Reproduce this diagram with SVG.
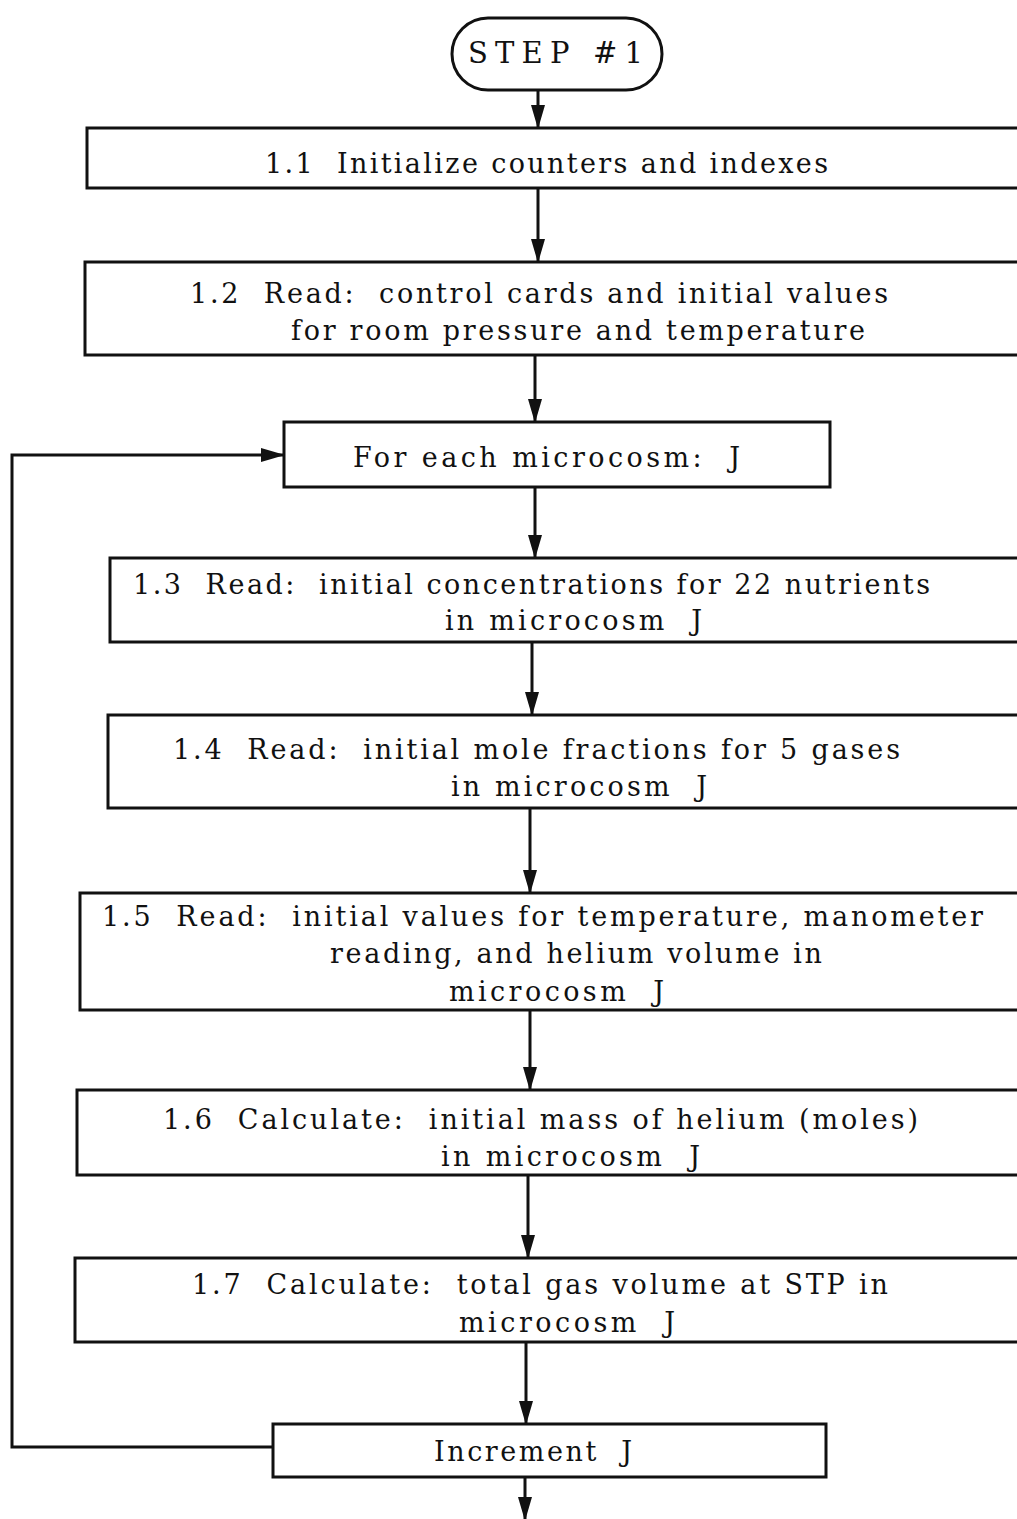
<svg xmlns="http://www.w3.org/2000/svg" width="1017" height="1519" viewBox="0 0 1017 1519">
<style>
.box{fill:#fff;stroke:#111;stroke-width:3}
.ln{fill:none;stroke:#111;stroke-width:3}
text{font-family:"DejaVu Serif","Liberation Serif",serif;font-size:27px;fill:#111;white-space:pre}
.big{font-size:29px}
</style>
<defs>
<marker id="ah" markerWidth="24" markerHeight="14" refX="22" refY="7" orient="auto" markerUnits="userSpaceOnUse" viewBox="0 0 24 14">
<path d="M0,0 L24,7 L0,14 Z" fill="#111"/>
</marker>
</defs>
<rect width="1017" height="1519" fill="#fff"/>
<g id="connectors">
<line class="ln" x1="538" y1="90" x2="538" y2="127" marker-end="url(#ah)"/>
<line class="ln" x1="538" y1="188" x2="538" y2="261" marker-end="url(#ah)"/>
<line class="ln" x1="535" y1="355" x2="535" y2="421" marker-end="url(#ah)"/>
<line class="ln" x1="535" y1="487" x2="535" y2="557" marker-end="url(#ah)"/>
<line class="ln" x1="532" y1="642" x2="532" y2="714" marker-end="url(#ah)"/>
<line class="ln" x1="530" y1="808" x2="530" y2="892" marker-end="url(#ah)"/>
<line class="ln" x1="530" y1="1010" x2="530" y2="1089" marker-end="url(#ah)"/>
<line class="ln" x1="528" y1="1175" x2="528" y2="1257" marker-end="url(#ah)"/>
<line class="ln" x1="526" y1="1342" x2="526" y2="1423" marker-end="url(#ah)"/>
<line class="ln" x1="525" y1="1477" x2="525" y2="1519" marker-end="url(#ah)"/>
<polyline class="ln" points="273,1447 12,1447 12,455 283,455" marker-end="url(#ah)"/>
</g>
<g id="start">
<rect class="box" x="452" y="18" width="210" height="72" rx="36" ry="36"/>
<text class="big" x="468" y="63" textLength="175" lengthAdjust="spacing">STEP #1</text>
</g>
<g id="n1_1">
<rect class="box" x="87" y="128" width="950" height="60"/>
<text x="265" y="173" textLength="563" lengthAdjust="spacing">1.1  Initialize counters and indexes</text>
</g>
<g id="n1_2">
<rect class="box" x="85" y="262" width="952" height="93"/>
<text x="190" y="303" textLength="698" lengthAdjust="spacing">1.2  Read:  control cards and initial values</text>
<text x="291" y="340" textLength="574" lengthAdjust="spacing">for room pressure and temperature</text>
</g>
<g id="loop">
<rect class="box" x="284" y="422" width="546" height="65"/>
<text x="353" y="467" textLength="387" lengthAdjust="spacing">For each microcosm:  J</text>
</g>
<g id="n1_3">
<rect class="box" x="110" y="558" width="927" height="84"/>
<text x="133" y="594" textLength="797" lengthAdjust="spacing">1.3  Read:  initial concentrations for 22 nutrients</text>
<text x="445" y="630" textLength="257" lengthAdjust="spacing">in microcosm  J</text>
</g>
<g id="n1_4">
<rect class="box" x="108" y="715" width="929" height="93"/>
<text x="173" y="759" textLength="727" lengthAdjust="spacing">1.4  Read:  initial mole fractions for 5 gases</text>
<text x="451" y="796" textLength="256" lengthAdjust="spacing">in microcosm  J</text>
</g>
<g id="n1_5">
<rect class="box" x="80" y="893" width="957" height="117"/>
<text x="102" y="926" textLength="881" lengthAdjust="spacing">1.5  Read:  initial values for temperature, manometer</text>
<text x="330" y="963" textLength="492" lengthAdjust="spacing">reading, and helium volume in</text>
<text x="449" y="1001" textLength="215" lengthAdjust="spacing">microcosm  J</text>
</g>
<g id="n1_6">
<rect class="box" x="77" y="1090" width="960" height="85"/>
<text x="163" y="1129" textLength="755" lengthAdjust="spacing">1.6  Calculate:  initial mass of helium (moles)</text>
<text x="441" y="1166" textLength="259" lengthAdjust="spacing">in microcosm  J</text>
</g>
<g id="n1_7">
<rect class="box" x="75" y="1258" width="962" height="84"/>
<text x="192" y="1294" textLength="696" lengthAdjust="spacing">1.7  Calculate:  total gas volume at STP in</text>
<text x="459" y="1332" textLength="216" lengthAdjust="spacing">microcosm  J</text>
</g>
<g id="increment">
<rect class="box" x="273" y="1424" width="553" height="53"/>
<text x="434" y="1461" textLength="198" lengthAdjust="spacing">Increment  J</text>
</g>
</svg>
